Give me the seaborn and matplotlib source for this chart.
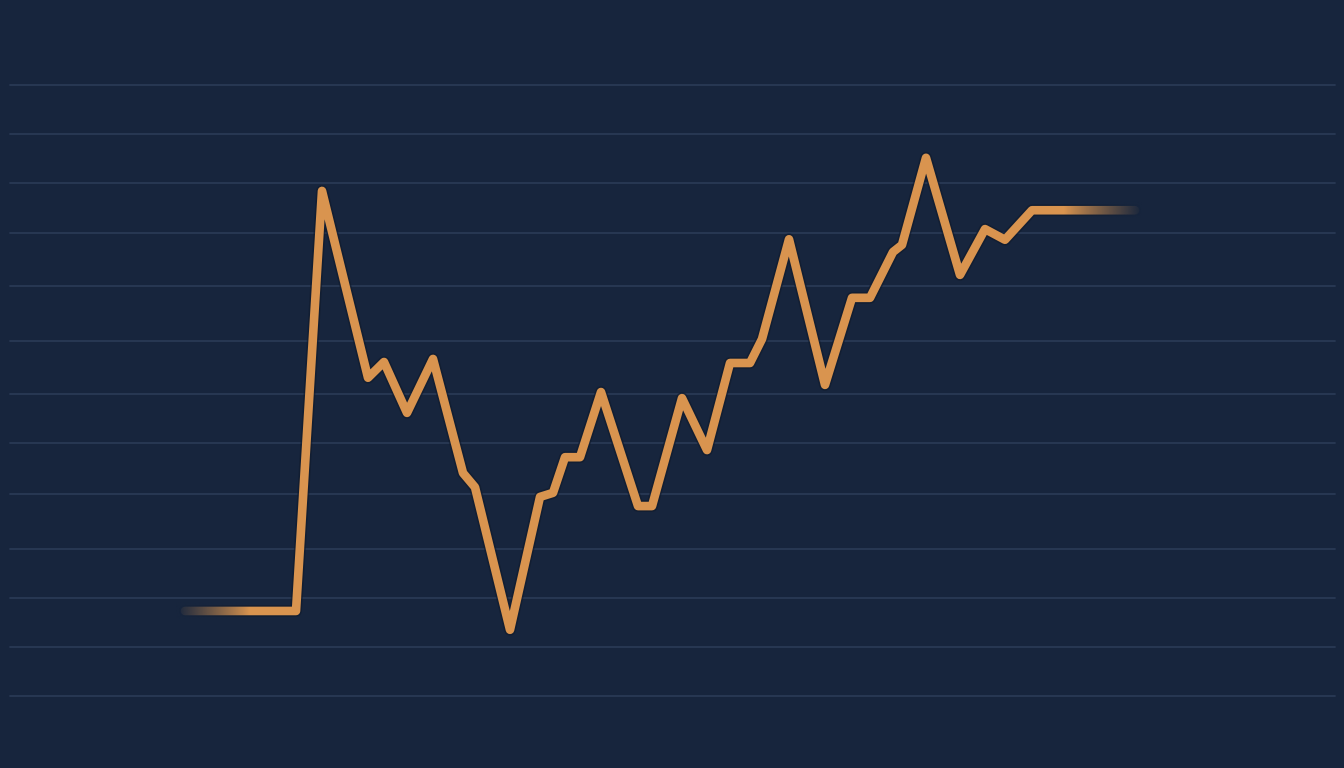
import matplotlib
matplotlib.use("Agg")
import matplotlib.pyplot as plt
import matplotlib.patheffects as pe
import numpy as np
import pandas as pd
import seaborn as sns

# values (x = horizontal position, y = level in grid units)
x_pos = [185, 296, 322, 368, 384, 407, 433, 463, 475, 510, 540, 553, 565, 580,
         601, 638, 652, 682, 707, 730, 750, 762, 789, 825, 852, 870, 893, 902,
         926, 960, 985, 1005, 1032, 1135]
levels = [1.67, 1.67, 9.92, 6.25, 6.56, 5.56, 6.62, 4.38, 4.10, 1.30, 3.91, 3.99,
          4.69, 4.69, 5.97, 3.73, 3.73, 5.85, 4.83, 6.54, 6.54, 7.01, 8.97, 6.11,
          7.82, 7.82, 8.72, 8.86, 10.57, 8.27, 9.17, 8.96, 9.54, 9.54]
grid_levels = [0.0, 0.96, 1.93, 2.89, 3.97, 4.97, 5.93, 6.97, 8.05, 9.09,
               10.08, 11.04, 12.0]

BG = "#17253D"
GRID = "#293955"
LINE = "#D9944F"

df = pd.DataFrame({"x": x_pos, "y": levels})

sns.set_style("dark", {"axes.facecolor": BG, "figure.facecolor": BG})

fig = plt.figure(figsize=(13.44, 7.68), dpi=100)
ax = fig.add_axes([0, 0, 1, 1])
ax.set_facecolor(BG)

for g in grid_levels:
    ax.axhline(g, xmin=10 / 1344, xmax=1335 / 1344, color=GRID, lw=1.3, zorder=1)

sns.lineplot(data=df, x="x", y="y", sort=False, estimator=None, ax=ax,
             color=LINE, lw=6.2, zorder=3,
             solid_joinstyle="round", solid_capstyle="round",
             path_effects=[pe.Stroke(linewidth=8.5, foreground="#101a2b", alpha=0.6),
                           pe.Normal()])

xlim = (0, 1344)
ylim = (-1.414, 13.669)

# fade the two flat ends into the background
bg_rgb = matplotlib.colors.to_rgb(BG)
fade = np.zeros((1, 256, 4))
fade[..., :3] = bg_rgb
fade[..., 3] = np.linspace(1, 0, 256) ** 0.9
ax.imshow(fade, extent=(176, 250, levels[0] - 0.16, levels[0] + 0.16),
          aspect="auto", zorder=4, interpolation="bilinear")
ax.imshow(fade[:, ::-1], extent=(1064, 1142, levels[-1] - 0.16, levels[-1] + 0.16),
          aspect="auto", zorder=4, interpolation="bilinear")

ax.set_xlim(*xlim)
ax.set_ylim(*ylim)
ax.set_xticks([])
ax.set_yticks([])
ax.set_xlabel("")
ax.set_ylabel("")
ax.grid(False)
for s in ax.spines.values():
    s.set_visible(False)

fig.savefig("out.png", dpi=100, facecolor=BG)
